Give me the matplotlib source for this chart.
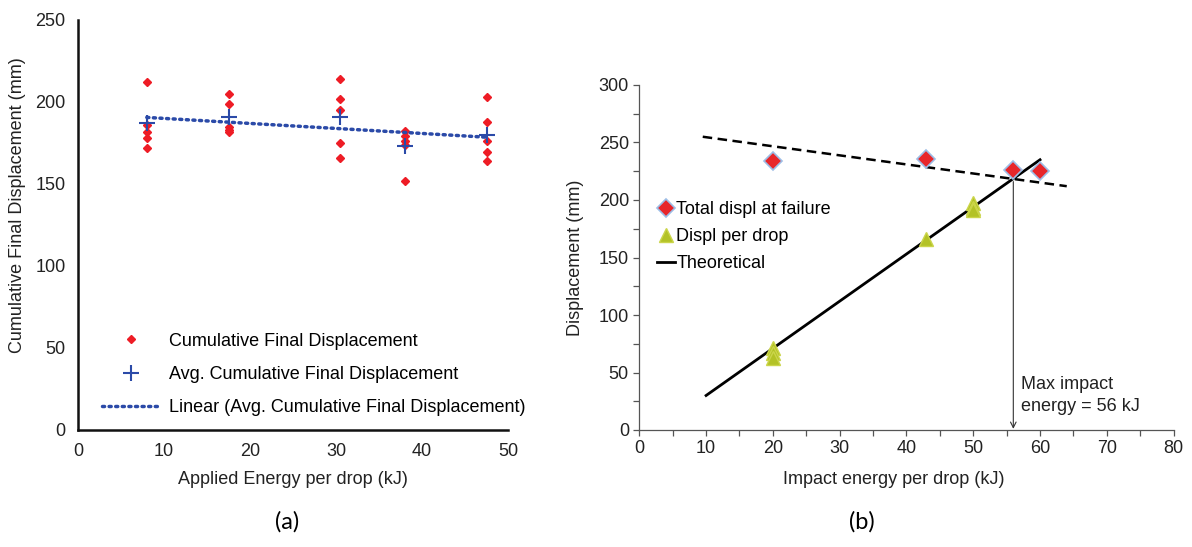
import numpy as np
import matplotlib
matplotlib.use("Agg")
import matplotlib.pyplot as plt
from matplotlib.ticker import MultipleLocator

plt.rcParams['font.family'] = ['Liberation Sans', 'DejaVu Sans']

# (a) cumulative final displacement per drop energy
energy_a = [8, 17.5, 30.5, 38, 47.5]
cum_disp = [
    [212, 186, 182, 178, 172],
    [205, 199, 185, 183, 182],
    [214, 202, 195, 175, 166],
    [182.5, 179, 176, 173.5, 152],
    [203, 188, 176.5, 169.5, 164],
]
avg_disp = [187, 191, 191, 173, 180]

# (b) displacement vs impact energy
fail_energy = [20, 43, 56, 60]
fail_disp = [234, 236, 226, 225]
drop_energy = [20, 20, 20, 43, 50, 50, 50]
drop_disp = [71, 67, 63, 166, 197, 193, 191]
theory_energy = [10, 60]
theory_disp = [30, 235]
limit_energy = [9.5, 64]
limit_disp = [255, 212]
max_energy = 56

fig = plt.figure(figsize=(11.92, 5.47), dpi=100)
W, H = 1192, 547

# ---- panel (a)
ax1 = fig.add_axes([78 / W, 1 - 430 / H, (508 - 78) / W, (430 - 20) / H])
xs = np.repeat(energy_a, [len(c) for c in cum_disp])
ys = np.concatenate(cum_disp)
ax1.plot(xs, ys, 'D', color='#ee1c25', ms=4.5, mec='#ee1c25', ls='none',
         label='Cumulative Final Displacement')
ax1.plot(energy_a, avg_disp, '+', color='#2b4aa8', ms=12, mew=1.5, ls='none',
         label='Avg. Cumulative Final Displacement')
k, b = np.polyfit(energy_a, avg_disp, 1)
fx = np.array([energy_a[0], energy_a[-1]])
ax1.plot(fx, k * fx + b, color='#2b4aa8', lw=2.5, ls=(0, (0.6, 1.3)),
         dash_capstyle='round', label='Linear (Avg. Cumulative Final Displacement)')
ax1.set_xlim(0, 50)
ax1.set_ylim(0, 250)
ax1.set_xticks(range(0, 51, 10))
ax1.set_yticks(range(0, 251, 50))
for s in ['top', 'right']:
    ax1.spines[s].set_visible(False)
for s in ['left', 'bottom']:
    ax1.spines[s].set_linewidth(1.8)
    ax1.spines[s].set_color('#111111')
ax1.tick_params(length=0, labelsize=13, pad=9, colors='#222222')
ax1.legend(loc='upper left', bbox_to_anchor=(0.04, 0.255), frameon=False,
           fontsize=13, handlelength=3.2, labelspacing=0.9, handletextpad=0.5,
           borderaxespad=0)
fig.text(293 / W, 1 - 480 / H, 'Applied Energy per drop (kJ)', ha='center',
         va='center', fontsize=13, color='#222222')
fig.text(18 / W, 1 - 205 / H, 'Cumulative Final Displacement (mm)', ha='center',
         va='center', rotation=90, fontsize=13, color='#222222')

# ---- panel (b)
ax2 = fig.add_axes([639.3 / W, 1 - 430 / H, (1173.6 - 639.3) / W, (430 - 85) / H])
ax2.plot(limit_energy, limit_disp, color='black', lw=1.8, ls=(0, (3.8, 2.2)))
ax2.plot(theory_energy, theory_disp, color='black', lw=2, label='Theoretical')
ax2.plot(drop_energy, drop_disp, '^', color='#b3c226', mec='#cbd54a', ms=10,
         ls='none', label='Displ per drop')
ax2.plot(fail_energy, fail_disp, 'D', color='#e8262a', mec='#9dbde6', mew=1.2,
         ms=9, ls='none', label='Total displ at failure')
ax2.annotate('', xy=(max_energy, 1), xytext=(max_energy, 216),
             arrowprops=dict(arrowstyle='->', lw=0.8, color='#333333',
                             shrinkA=0, shrinkB=0))
ax2.text(57.2, 30, 'Max impact\nenergy = 56 kJ', ha='left', va='center',
         fontsize=13, color='#222222', linespacing=1.35)
ax2.set_xlim(0, 80)
ax2.set_ylim(0, 300)
ax2.xaxis.set_major_locator(MultipleLocator(10))
ax2.xaxis.set_minor_locator(MultipleLocator(5))
ax2.yaxis.set_major_locator(MultipleLocator(50))
ax2.yaxis.set_minor_locator(MultipleLocator(25))
for s in ['top', 'right']:
    ax2.spines[s].set_visible(False)
for s in ['left', 'bottom']:
    ax2.spines[s].set_linewidth(0.9)
    ax2.spines[s].set_color('#555555')
ax2.tick_params(which='both', length=4, width=0.9, color='#555555',
                labelsize=13, labelcolor='#222222')
h, l = ax2.get_legend_handles_labels()
ax2.legend(h[::-1], l[::-1], loc='upper left', bbox_to_anchor=(0.02, 0.685),
           frameon=False, fontsize=13, handlelength=1.0, labelspacing=0.57,
           handletextpad=0.05, borderaxespad=0)
fig.text(894 / W, 1 - 480 / H, 'Impact energy per drop (kJ)', ha='center',
         va='center', fontsize=13, color='#222222')
fig.text(575 / W, 1 - 258 / H, 'Displacement (mm)', ha='center', va='center',
         rotation=90, fontsize=13, color='#222222')

fig.text(287 / W, 1 - 522 / H, '(a)', ha='center', va='center', fontsize=17,
         family=['Lato', 'DejaVu Sans'])
fig.text(862 / W, 1 - 522 / H, '(b)', ha='center', va='center', fontsize=17,
         family=['Lato', 'DejaVu Sans'])

fig.savefig('out.png', dpi=100)
